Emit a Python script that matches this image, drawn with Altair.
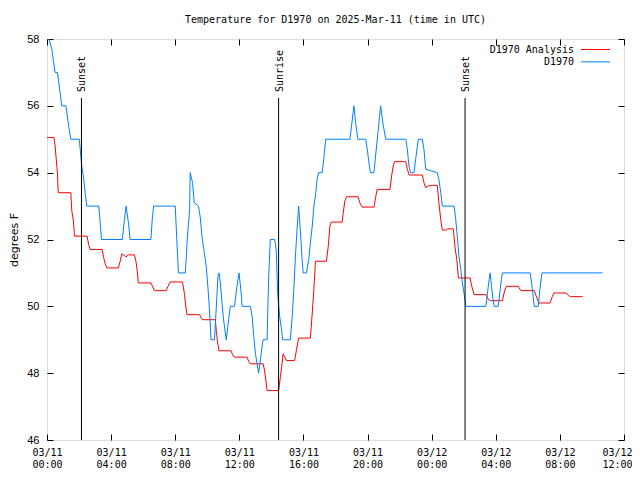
import altair as alt
import pandas as pd

# ---- data (minutes after 2025-03-11 00:00 UTC, degrees F) ----
blue_min = [0, 18, 24, 30, 39, 49, 55, 71, 81, 89,
            121, 130, 136, 143, 149, 194, 201, 204, 282, 290,
            296, 305, 311, 389, 394, 399, 480, 486, 492, 518,
            526, 534, 536, 545, 551, 567, 574, 580, 589, 596,
            603, 609, 614, 627, 634, 640, 644, 649, 655, 661,
            671, 680, 686, 702, 711, 719, 728, 730, 761, 768,
            774, 780, 786, 792, 799, 805, 809, 824, 826, 830,
            836, 852, 858, 864, 871, 878, 882, 911, 918, 924,
            930, 936, 942, 949, 955, 959, 971, 980, 986, 993,
            999, 1005, 1011, 1017, 1030, 1036, 1043, 1134, 1140, 1149,
            1155, 1164, 1193, 1199, 1205, 1211, 1224, 1230, 1239, 1249,
            1257, 1268, 1343, 1349, 1355, 1361, 1374, 1380, 1390, 1405,
            1411, 1418, 1461, 1467, 1474, 1480, 1524, 1530, 1536, 1542,
            1549, 1555, 1561, 1568, 1643, 1649, 1655, 1659, 1664, 1670,
            1674, 1689, 1695, 1701, 1705, 1809, 1814, 1820, 1824, 1839,
            1845, 1853, 2080]
blue_val = [58.2, 57.7, 57.35, 57.0, 57.0, 56.4, 56.0, 56.0, 55.4, 55.0,
            55.0, 54.2, 53.9, 53.4, 53.0, 53.0, 52.3, 52.0, 52.0, 52.6,
            53.0, 52.5, 52.0, 52.0, 52.6, 53.0, 53.0, 52.0, 51.0, 51.0,
            52.1, 52.9, 54.0, 53.7, 53.1, 53.0, 52.65, 52.1, 51.6, 51.2,
            50.5, 49.8, 49.0, 49.0, 50.0, 50.9, 51.0, 50.7, 50.1, 49.6,
            49.0, 49.6, 50.0, 50.0, 50.6, 51.0, 50.3, 50.0, 50.0, 49.7,
            49.1, 48.6, 48.3, 48.0, 48.4, 48.8, 49.0, 49.0, 49.7, 50.9,
            52.0, 52.0, 51.7, 50.3, 49.7, 49.3, 49.0, 49.0, 49.7, 50.5,
            51.5, 52.3, 53.0, 52.2, 51.4, 51.0, 51.0, 51.4, 51.9, 52.4,
            53.0, 53.3, 53.8, 54.0, 54.0, 54.4, 55.0, 55.0, 55.4, 56.0,
            55.5, 55.0, 55.0, 54.7, 54.3, 54.0, 54.0, 54.5, 55.2, 56.0,
            55.5, 55.0, 55.0, 54.7, 54.2, 54.0, 54.0, 54.4, 55.0, 55.0,
            54.7, 54.1, 54.0, 53.8, 53.4, 53.0, 53.0, 52.6, 52.1, 51.5,
            51.1, 50.7, 50.4, 50.0, 50.0, 50.4, 50.8, 51.0, 50.6, 50.2,
            50.0, 50.0, 50.4, 50.8, 51.0, 51.0, 50.7, 50.3, 50.0, 50.0,
            50.5, 51.0, 51.0]

red_min = [0, 26, 30, 34, 39, 42, 89, 93, 99, 103,
           150, 156, 161, 207, 211, 218, 224, 267, 274, 280,
           289, 296, 305, 327, 333, 338, 342, 389, 395, 402,
           446, 453, 461, 507, 511, 515, 518, 524, 571, 578,
           581, 630, 634, 639, 644, 689, 695, 701, 749, 755,
           761, 809, 814, 819, 824, 867, 874, 880, 884, 889,
           896, 927, 934, 942, 986, 993, 999, 1005, 1046, 1053,
           1059, 1064, 1105, 1109, 1115, 1121, 1164, 1171, 1180, 1224,
           1230, 1236, 1284, 1290, 1296, 1301, 1343, 1349, 1356, 1405,
           1411, 1418, 1426, 1443, 1461, 1467, 1474, 1480, 1493, 1501,
           1521, 1527, 1534, 1540, 1584, 1590, 1599, 1643, 1651, 1659,
           1705, 1711, 1719, 1764, 1771, 1778, 1824, 1834, 1842, 1883,
           1892, 1898, 1943, 1953, 1959, 2005]
red_val = [55.05, 55.05, 54.85, 54.45, 54.0, 53.4, 53.4, 52.85, 52.55, 52.1,
           52.1, 51.85, 51.7, 51.7, 51.5, 51.27, 51.15, 51.15, 51.35, 51.57,
           51.53, 51.48, 51.54, 51.54, 51.35, 51.05, 50.7, 50.7, 50.6, 50.47,
           50.47, 50.6, 50.73, 50.73, 50.55, 50.35, 50.1, 49.75, 49.75, 49.65,
           49.6, 49.6, 49.25, 48.9, 48.67, 48.67, 48.55, 48.48, 48.48, 48.35,
           48.28, 48.28, 48.1, 47.8, 47.48, 47.48, 47.9, 48.3, 48.58, 48.5,
           48.38, 48.38, 48.7, 49.05, 49.05, 49.8, 50.5, 51.35, 51.35, 51.8,
           52.4, 52.52, 52.52, 52.8, 53.15, 53.28, 53.28, 53.1, 52.97, 52.97,
           53.25, 53.5, 53.5, 53.9, 54.2, 54.33, 54.33, 54.1, 53.93, 53.93,
           53.7, 53.55, 53.6, 53.62, 53.62, 53.1, 52.6, 52.28, 52.28, 52.32,
           52.32, 51.8, 51.4, 50.85, 50.85, 50.6, 50.35, 50.35, 50.22, 50.17,
           50.17, 50.4, 50.6, 50.6, 50.5, 50.47, 50.47, 50.25, 50.1, 50.1,
           50.3, 50.4, 50.4, 50.32, 50.29, 50.29]

event_min = [129, 867, 1565]
event_label = ["Sunset", "Sunrise", "Sunset"]

series_names = ["D1970 Analysis", "D1970"]
series_colors = ["#ff0000", "#0080ff"]

y_ticks = [46, 48, 50, 52, 54, 56, 58]

# ---- helpers ----
base = pd.Timestamp("2025-03-11 00:00")


def ts(m):
    return (base + pd.Timedelta(minutes=m)).strftime("%Y-%m-%dT%H:%M:%SZ")


red_df = pd.DataFrame({"time": [ts(m) for m in red_min], "temp": red_val})
blue_df = pd.DataFrame({"time": [ts(m) for m in blue_min], "temp": blue_val})
ev_df = pd.DataFrame({"time": [ts(m) for m in event_min], "label": event_label})

W, H = 577, 401
MONO = "DejaVu Sans Mono"

hour_ticks = [alt.DateTime(year=2025, month=3, date=11 + h // 24, hours=h % 24, utc=True)
              for h in range(37)]

xscale = alt.Scale(
    type="utc",
    domain=[alt.DateTime(year=2025, month=3, date=11, hours=0, utc=True),
            alt.DateTime(year=2025, month=3, date=12, hours=12, utc=True)],
    nice=False,
)
yscale = alt.Scale(domain=[46, 58], nice=False, zero=False)

LAST = "utcdate(datum.value) === 12 && utchours(datum.value) === 12"

xaxis = alt.Axis(
    values=hour_ticks, title=None, domain=False, ticks=False, tickSize=0,
    grid=True, gridColor="black", gridOpacity=1, gridWidth=1,
    gridDash={"condition": {"test": "utchours(datum.value) % 4 === 0", "value": [6, H - 12]},
              "value": [3, H - 6]},
    labelExpr="utchours(datum.value) % 4 === 0 ? [utcFormat(datum.value, '%m/%d'), utcFormat(datum.value, '%H:%M')] : ''",
    labelFont=MONO, labelFontSize=10, labelColor="black", labelPadding=7,
    labelLineHeight=12, labelOverlap=False, labelBound=False, labelFlush=False,
    labelBaseline="top",
    labelAlign={"condition": {"test": LAST, "value": "right"}, "value": "center"},
    labelOffset={"condition": {"test": LAST, "value": 8}, "value": 0},
)
yaxis = alt.Axis(
    values=y_ticks, title="degrees F", domain=False, ticks=False, tickSize=0,
    grid=True, gridColor="black", gridOpacity=1, gridWidth=1, gridDash=[6, W - 12],
    labelFont="Liberation Sans", labelFontSize=11, labelColor="black", labelPadding=8,
    titleFont="DejaVu Sans", titleFontSize=11, titleFontWeight="normal", titleColor="black",
    titlePadding=7,
)

red_line = alt.Chart(red_df).mark_line(color=series_colors[0], strokeWidth=1, clip=True).encode(
    x=alt.X("time:T", scale=xscale, axis=xaxis),
    y=alt.Y("temp:Q", scale=yscale, axis=yaxis),
)
blue_line = alt.Chart(blue_df).mark_line(color=series_colors[1], strokeWidth=1, clip=True).encode(
    x=alt.X("time:T", scale=xscale),
    y=alt.Y("temp:Q", scale=yscale),
)

ev_rules = alt.Chart(ev_df).mark_rule(color="black", strokeWidth=1).encode(
    x=alt.X("time:T", scale=xscale),
    y=alt.value(H),
    y2=alt.value(59),
)
ev_text = alt.Chart(ev_df).mark_text(
    angle=270, align="left", baseline="middle", font=MONO, fontSize=10, color="black", dy=1
).encode(
    x=alt.X("time:T", scale=xscale),
    y=alt.value(53),
    text="label:N",
)

# legend (top right, label left of sample line)
legend_layers = []
for i, (nm, col) in enumerate(zip(series_names, series_colors)):
    ly = 10.5 + 12.4 * i
    ldf = pd.DataFrame({"name": [nm]})
    legend_layers.append(
        alt.Chart(ldf).mark_text(align="right", baseline="middle", font=MONO, fontSize=10,
                                 color="black").encode(
            x=alt.value(527), y=alt.value(ly), text="name:N")
    )
    legend_layers.append(
        alt.Chart(ldf).mark_rule(color=col, strokeWidth=1).encode(
            x=alt.value(534), x2=alt.value(563), y=alt.value(ly))
    )

chart = alt.layer(red_line, blue_line, ev_rules, ev_text, *legend_layers).properties(
    width=W, height=H,
    title=alt.TitleParams("Temperature for D1970 on 2025-Mar-11 (time in UTC)",
                          font=MONO, fontSize=10, fontWeight="normal", color="black",
                          anchor="middle", baseline="bottom", offset=-2),
    autosize=alt.AutoSizeParams(type="none"),
    padding={"left": 39, "top": 31, "right": 8, "bottom": 28},
).configure_view(stroke="black", strokeWidth=1).configure(background="white")

chart.save("out.html", embed_options={"renderer": "svg", "actions": False})
